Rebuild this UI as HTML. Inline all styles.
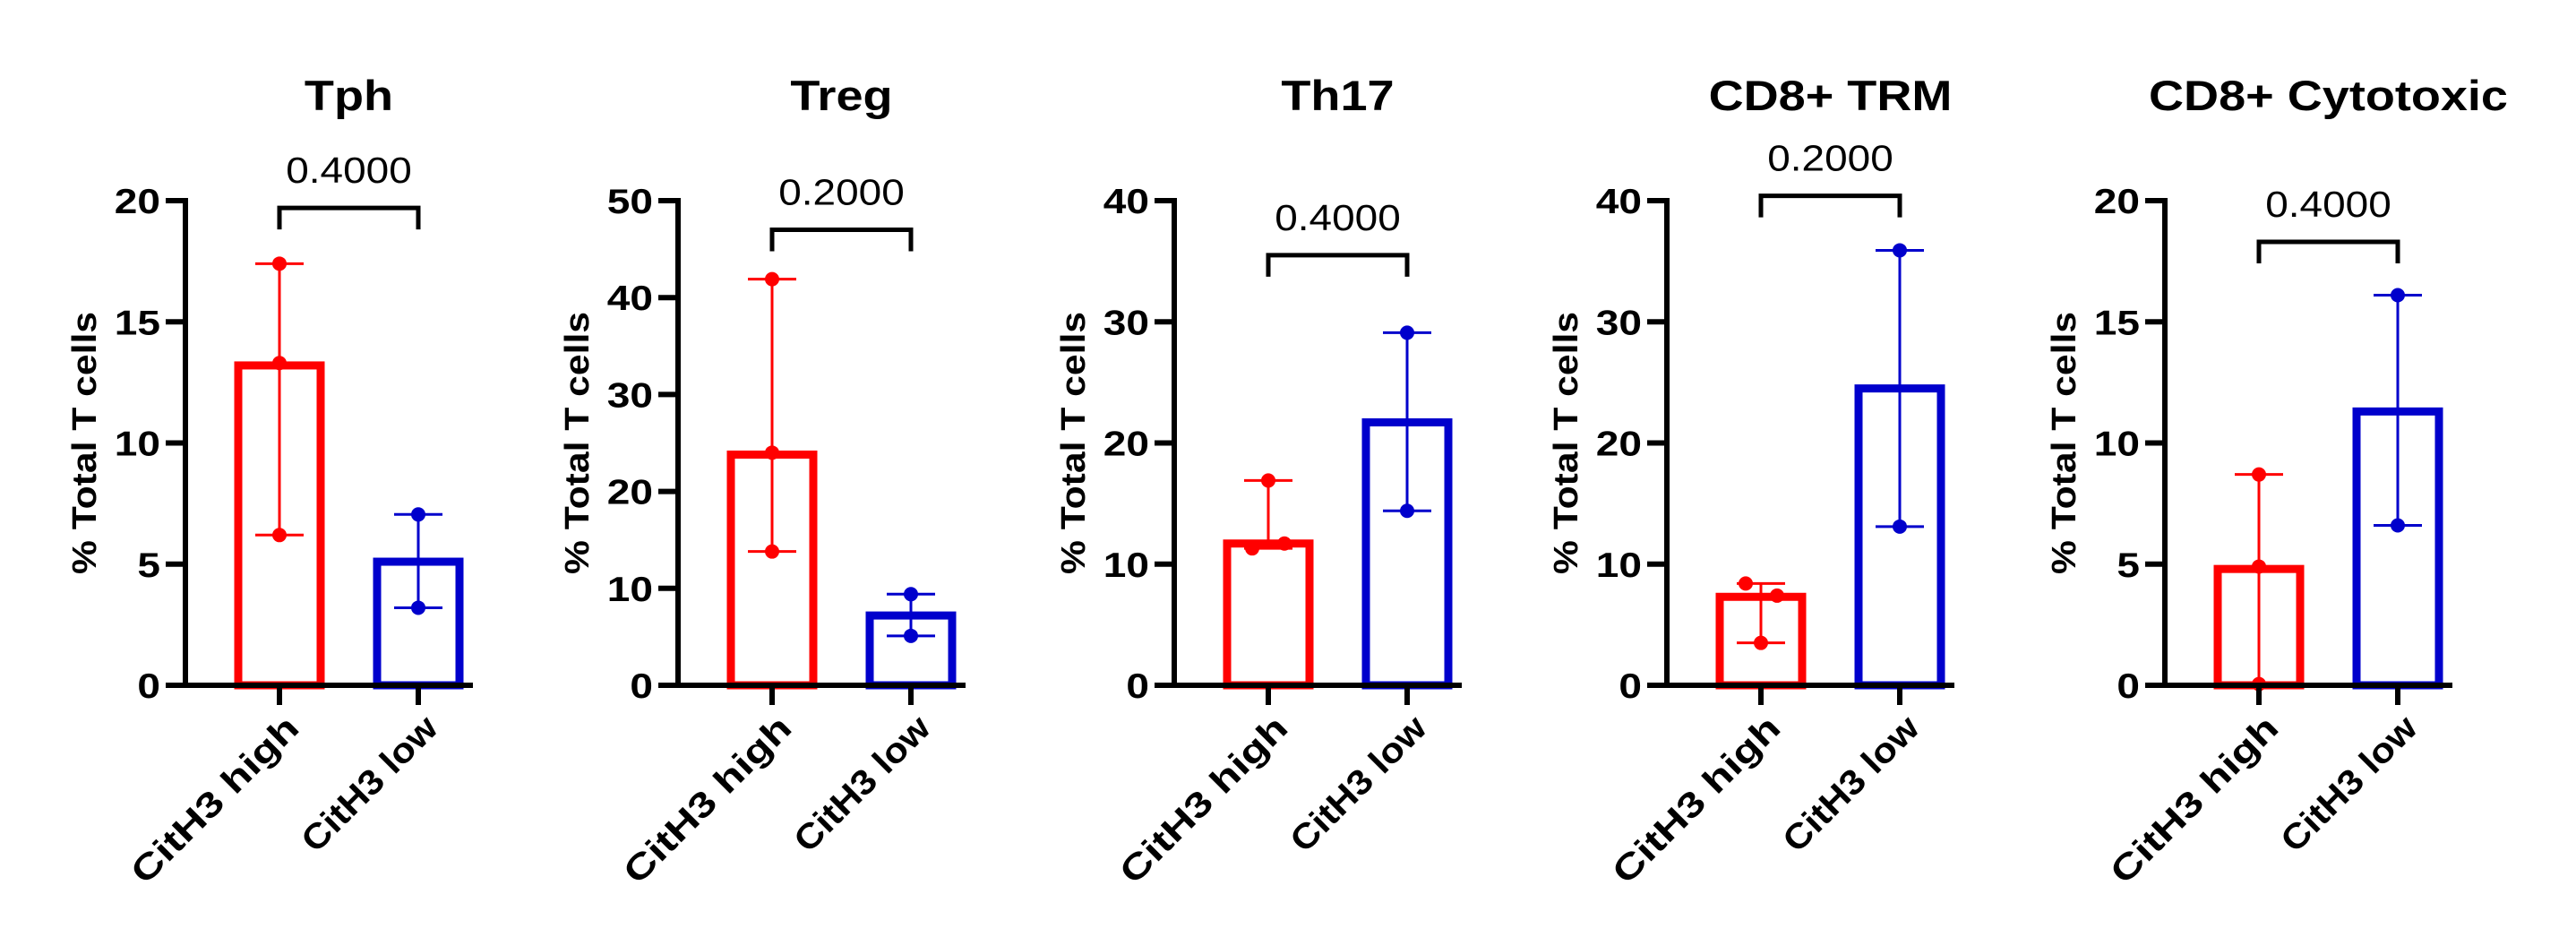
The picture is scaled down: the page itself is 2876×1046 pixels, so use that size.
<!DOCTYPE html>
<html><head><meta charset="utf-8"><style>
html,body{margin:0;padding:0;background:#fff}
svg{display:block}
text{font-family:"Liberation Sans",Arial,sans-serif}
</style></head><body>
<svg id="chart" width="2876" height="1046" viewBox="0 0 2876 1046" xmlns="http://www.w3.org/2000/svg"></svg>
<script>
const titles = ["Tph","Treg","Th17","CD8+ TRM","CD8+ Cytotoxic"];
const categories = ["CitH3 high","CitH3 low"];
const yMax = [20,50,40,40,20];
const yStep = [5,10,10,10,5];
const highMean = [13.2,23.8,11.7,7.3,4.8];
const lowMean = [5.1,7.2,21.7,24.5,11.3];
const highPoints = [[17.4,13.3,6.2],[41.9,24,13.8],[16.9,11.3,11.7],[8.4,7.4,3.5],[8.7,4.9,0.05]];
const lowPoints = [[7.05,3.2],[9.4,5.1],[29.1,14.4],[35.9,13.1],[16.1,6.6]];
const pValues = ["0.4000","0.2000","0.4000","0.2000","0.4000"];
const bracketVal = [19.7,47,35.5,40.4,18.3];
const highJitter = [[0,0,0],[0,0,0],[0,-18,18],[-17,18,0],[0,0,0]];

const svg = document.getElementById('chart');
const NS = 'http://www.w3.org/2000/svg';
function mk(tag, attrs, parent){
  const e = document.createElementNS(NS, tag);
  for (const k in attrs) e.setAttribute(k, attrs[k]);
  (parent||svg).appendChild(e);
  return e;
}
function widen(el, f){
  const w = el.getComputedTextLength();
  el.setAttribute('textLength', (w*f).toFixed(1));
  el.setAttribute('lengthAdjust', 'spacingAndGlyphs');
}
function fitTo(el, w){
  el.setAttribute('textLength', w);
  el.setAttribute('lengthAdjust', 'spacingAndGlyphs');
}
const axisX = [207,757,1311,1861,2417];
const yTop = 224, yBot = 765;
const colors = ["#ff0000","#0000cc"];
const xLabelLen = [246,196];

titles.forEach((t,i)=>{
  const g = mk('g',{});
  
  
  const ax = axisX[i];
  const y = v => yBot - (v / yMax[i]) * (yBot - yTop);
  const cx = [ax + 105, ax + 260];
  const bw = 92;
  const tt = mk('text',{x:(cx[0]+cx[1])/2, y:123, 'text-anchor':'middle','font-size':47,'font-weight':'bold'},g);
  tt.textContent = t;
  
  
  widen(tt, 1.15);
  const means = [highMean[i], lowMean[i]];
  means.forEach((m,j)=>{
    const r = mk('rect',{x:cx[j]-bw/2, y:y(m), width:bw, height:yBot-y(m), fill:'none', stroke:colors[j], 'stroke-width':9},g);
    
    
  });
  const pts = [highPoints[i], lowPoints[i]];
  pts.forEach((p,j)=>{
    const mn = Math.min(...p), mx = Math.max(...p);
    const l = mk('line',{x1:cx[j],x2:cx[j],y1:y(mn),y2:y(mx),stroke:colors[j],'stroke-width':3},g);
    
    
    [mn,mx].forEach(v=>{
      const c = mk('line',{x1:cx[j]-27,x2:cx[j]+27,y1:y(v),y2:y(v),stroke:colors[j],'stroke-width':3},g);
      
      
    });
    p.forEach((v,k)=>{
      const jx = j===0 ? highJitter[i][k] : 0;
      const d = mk('circle',{cx:cx[j]+jx, cy:y(v), r:8, fill:colors[j]},g);
      
      
    });
  });
  const ya = mk('line',{x1:ax,x2:ax,y1:yTop-3,y2:yBot+3,stroke:'#000','stroke-width':6},g);
  
  
  const xa = mk('line',{x1:ax-22,x2:ax+321,y1:yBot,y2:yBot,stroke:'#000','stroke-width':6},g);
  
  
  for (let v=0; v<=yMax[i]; v+=yStep[i]){
    const tk = mk('line',{x1:ax-22,x2:ax,y1:y(v),y2:y(v),stroke:'#000','stroke-width':6},g);
    
    
    const tl = mk('text',{x:ax-28,y:y(v)+14,'text-anchor':'end','font-size':39,'font-weight':'bold'},g);
    tl.textContent = v;
    
    
    widen(tl, 1.18);
  }
  const yl = mk('text',{x:0,y:0,'text-anchor':'middle','font-size':38,'font-weight':'bold',transform:`translate(${ax-100},${(yTop+yBot)/2}) rotate(-90)`},g);
  yl.textContent = '% Total T cells';
  
  
  fitTo(yl, 293);
  categories.forEach((c,j)=>{
    const tk = mk('line',{x1:cx[j],x2:cx[j],y1:yBot,y2:yBot+22,stroke:'#000','stroke-width':6},g);
    
    
    const xl = mk('text',{x:0,y:0,'text-anchor':'end','font-size':39,'font-weight':'bold',transform:`translate(${cx[j]+24},${yBot+50}) rotate(-45)`},g);
    xl.textContent = c;
    
    
    fitTo(xl, xLabelLen[j]);
  });
  const by = y(bracketVal[i]);
  const br = mk('path',{d:`M${cx[0]},${by+24} V${by} H${cx[1]} V${by+24}`,fill:'none',stroke:'#000','stroke-width':5},g);
  
  
  const pv = mk('text',{x:(cx[0]+cx[1])/2,y:by-28,'text-anchor':'middle','font-size':41},g);
  pv.textContent = pValues[i];
  
  
  widen(pv, 1.12);
});
</script>
</body></html>
